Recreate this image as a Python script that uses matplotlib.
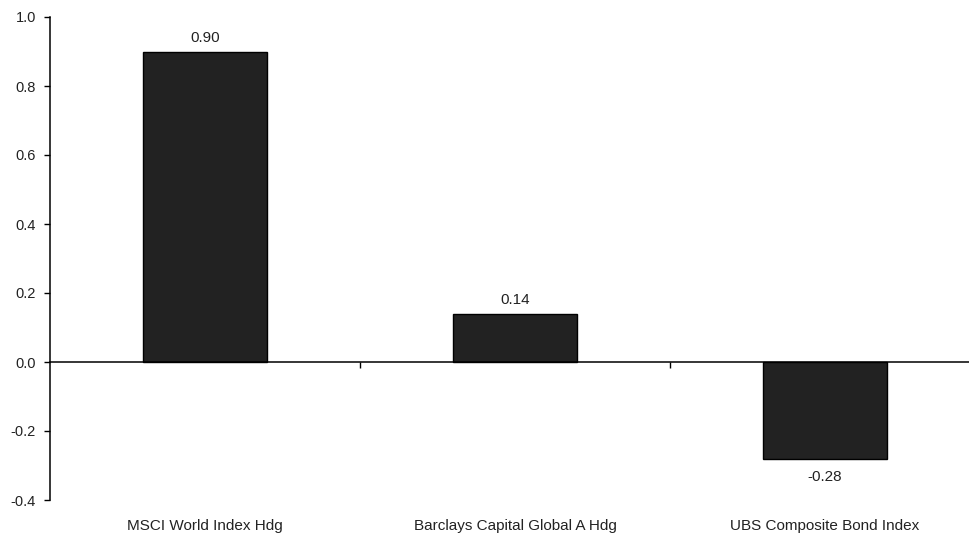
import matplotlib.pyplot as plt

plt.rcParams['font.family'] = ['Liberation Sans', 'DejaVu Sans']

categories = ["MSCI World Index Hdg", "Barclays Capital Global A Hdg", "UBS Composite Bond Index"]
values = [0.90, 0.14, -0.28]
value_labels = ["0.90", "0.14", "-0.28"]
y_ticks = [-0.4, -0.2, 0.0, 0.2, 0.4, 0.6, 0.8, 1.0]

fig = plt.figure(figsize=(9.7, 5.33), dpi=100)
ax = fig.add_axes([50 / 970, 33 / 533, 930 / 970, 483 / 533])

x = range(len(categories))
bars = ax.bar(x, values, width=0.4, color='#222222', edgecolor='black', linewidth=1)

for xi, v, lab in zip(x, values, value_labels):
    if v >= 0:
        ax.annotate(lab, (xi, v), xytext=(0, 5), textcoords='offset points',
                    ha='center', va='bottom', fontsize=11, color='#222222')
    else:
        ax.annotate(lab, (xi, v), xytext=(0, -8), textcoords='offset points',
                    ha='center', va='top', fontsize=11, color='#222222')

ax.set_xlim(-0.5, 2.5)
ax.set_ylim(-0.4, 1.0)
ax.set_yticks(y_ticks)
ax.set_yticklabels([f"{t:.1f}" for t in y_ticks])

ax.spines['top'].set_visible(False)
ax.spines['right'].set_visible(False)
ax.spines['bottom'].set_position(('data', 0))
ax.spines['left'].set_linewidth(1.1)
ax.spines['bottom'].set_linewidth(1.1)

ax.set_xticks([0.5, 1.5])
ax.set_xticklabels([])
ax.tick_params(axis='x', direction='out', length=4, width=1)
ax.tick_params(axis='y', direction='out', length=4, width=1, labelsize=10.5, pad=6,
               labelcolor='#222222')

for xi, name in zip(x, categories):
    ax.text(xi, -0.054, name, transform=ax.get_xaxis_transform(),
            ha='center', va='center', fontsize=11, color='#222222')

fig.savefig("out.png", dpi=100)
